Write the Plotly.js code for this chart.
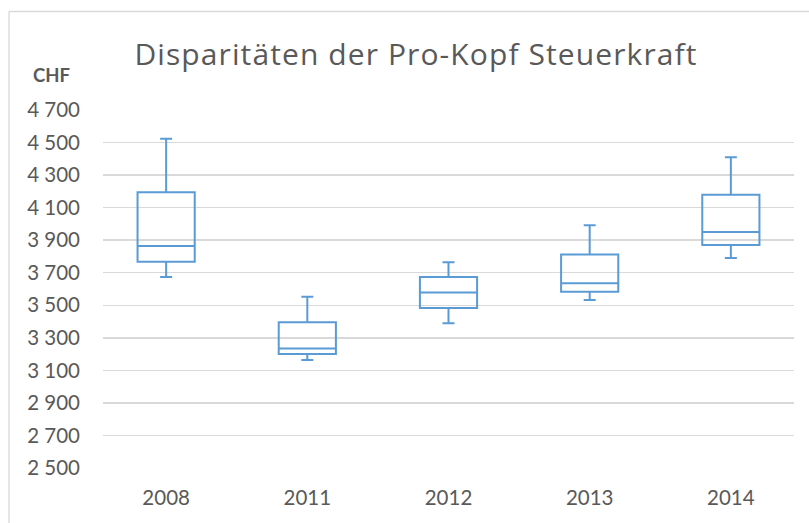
<!DOCTYPE html>
<html>
<head>
<meta charset="utf-8">
<script src="https://cdn.plot.ly/plotly-3.0.1.min.js"></script>
<style>
html,body{margin:0;padding:0;background:#fff;}
#chart{width:809px;height:523px;}
#chart .gtitle{letter-spacing:1.1px;}
</style>
</head>
<body>
<div id="chart"></div>
<script>
// Data (CHF per capita)
const years = ["2008", "2011", "2012", "2013", "2014"];
const lowerWhisker = [3673, 3164, 3390, 3532, 3790];
const q1Values = [3767, 3201, 3484, 3583, 3870];
const medianValues = [3865, 3234, 3579, 3636, 3950];
const q3Values = [4194, 3396, 3673, 3812, 4179];
const upperWhisker = [4524, 3552, 3765, 3991, 4409];
const yTickVals = [2500, 2700, 2900, 3100, 3300, 3500, 3700, 3900, 4100, 4300, 4500, 4700];
const yTickText = ["2 500", "2 700", "2 900", "3 100", "3 300", "3 500", "3 700", "3 900", "4 100", "4 300", "4 500", "4 700"];

const blue = "#5B9BD5";
const grey = "#595959";
const font = "Lato, 'Open Sans', sans-serif";

const trace = {
  type: "box",
  x: years,
  q1: q1Values,
  median: medianValues,
  q3: q3Values,
  lowerfence: lowerWhisker,
  upperfence: upperWhisker,
  width: 0.405,
  whiskerwidth: 0.21,
  fillcolor: "rgba(255,255,255,0)",
  line: {color: blue, width: 2},
  hoverinfo: "y",
  showlegend: false
};

const layout = {
  width: 809,
  height: 523,
  margin: {l: 103, r: 15, t: 110, b: 55},
  paper_bgcolor: "#ffffff",
  plot_bgcolor: "#ffffff",
  font: {family: font, color: grey},
  title: {
    text: "Disparitäten der Pro-Kopf Steuerkraft",
    font: {family: "'Open Sans', Lato, sans-serif", size: 30, color: grey, weight: 400},
    x: 416 / 809, xanchor: "center", xref: "container",
    y: 1 - 54 / 523, yanchor: "middle", yref: "container"
  },
  xaxis: {
    type: "category",
    showgrid: false,
    showline: false,
    zeroline: false,
    ticks: "",
    tickfont: {family: font, size: 20.5, color: grey},
    ticklabelstandoff: 15
  },
  yaxis: {
    range: [2500, 4700],
    tickmode: "array",
    tickvals: yTickVals,
    ticktext: yTickText,
    showgrid: true,
    gridcolor: "#D9D9D9",
    gridwidth: 1.5,
    zeroline: false,
    showline: false,
    ticks: "",
    tickfont: {family: font, size: 20.5, color: grey},
    ticklabelstandoff: 22
  },
  annotations: [{
    text: "<b>CHF</b>",
    xref: "paper", yref: "paper",
    x: (51 - 103) / 691, y: (468 - 75) / 358,
    xanchor: "center", yanchor: "middle",
    showarrow: false,
    font: {family: font, size: 18.5, color: grey}
  }],
  shapes: [
    {type: "line", xref: "paper", yref: "paper", x0: (9 - 103) / 691, x1: (9 - 103) / 691, y0: (468 - 11.5) / 358, y1: (468 - 530) / 358, line: {color: "#D9D9D9", width: 1.3}},
    {type: "line", xref: "paper", yref: "paper", x0: (9 - 103) / 691, x1: (820 - 103) / 691, y0: (468 - 11.5) / 358, y1: (468 - 11.5) / 358, line: {color: "#D9D9D9", width: 1.3}}
  ]
};

Plotly.newPlot("chart", [trace], layout, {staticPlot: true, displayModeBar: false});
</script>
</body>
</html>
